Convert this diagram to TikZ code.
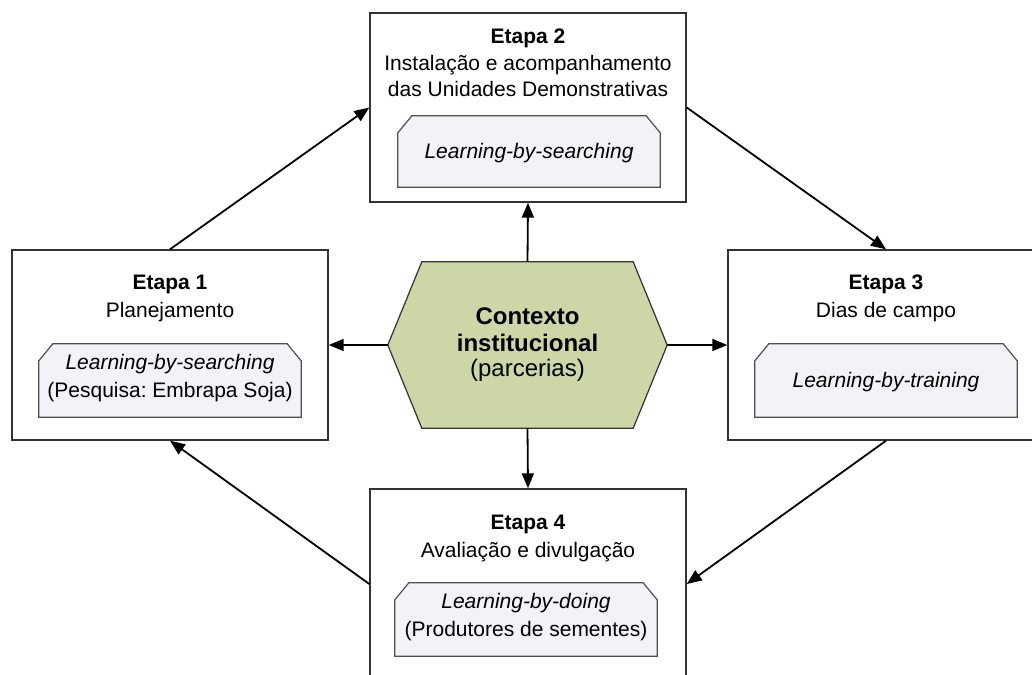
\documentclass[tikz,border=0pt]{standalone}
\usepackage{fontspec}
\setmainfont{Liberation Sans}
\frenchspacing
\usetikzlibrary{arrows.meta,backgrounds}
\definecolor{hexfill}{RGB}{205,214,166}
\definecolor{innerfill}{RGB}{242,242,247}
\definecolor{boxline}{RGB}{50,50,50}
\definecolor{innerline}{RGB}{80,80,80}
\begin{document}
\begin{tikzpicture}[x=1pt,y=-1pt,
  stagebox/.style={draw=boxline,line width=1.4pt,fill=white,minimum width=316pt,minimum height=190pt,inner sep=0pt},
  innerbox/.style={minimum width=262pt,minimum height=73pt,inner sep=0pt},
  chamf/.style={draw=innerline,line width=1.2pt,fill=innerfill},
  txt/.style={anchor=base,inner sep=0pt,font=\fontsize{21}{26}\selectfont},
  ttl/.style={txt,font=\fontsize{21}{26}\selectfont\bfseries},
  itx/.style={txt,font=\fontsize{21}{26}\selectfont\itshape},
  hextxt/.style={anchor=base,inner sep=0pt,font=\fontsize{24}{28}\selectfont},
  conn/.style={line width=1.8pt,-{Triangle[length=15pt,width=12pt]}}
]
\clip (0,0) rectangle (1032,674);
\fill[white] (0,0) rectangle (1032,674);

% outer stage boxes
\node[stagebox] (s1) at (170,345) {};
\node[stagebox,minimum height=189pt] (s2) at (528,107.5) {};
\node[stagebox] (s3) at (886,345) {};
\node[stagebox] (s4) at (528,584) {};

% inner boxes (anchors)
\node[innerbox] (b1) at (170,380.5) {};
\node[innerbox,minimum height=71pt] (b2) at (529,151.5) {};
\node[innerbox] (b3) at (886,380.5) {};
\node[innerbox] (b4) at (526,619.5) {};
\foreach \b in {b1,b2,b3,b4}{
  \draw[chamf] ([yshift=-17pt]\b.north west) -- ([xshift=14pt]\b.north west)
    -- ([xshift=-14pt]\b.north east) -- ([yshift=-17pt]\b.north east)
    -- (\b.south east) -- (\b.south west) -- cycle;
}

% hexagon
\node[minimum width=279pt,minimum height=166pt,inner sep=0pt] (hex) at (527.5,345) {};
\draw[draw=boxline,line width=1.2pt,fill=hexfill] (hex.west) -- ([xshift=34pt]hex.north west)
  -- ([xshift=-34pt]hex.north east) -- (hex.east) -- ([xshift=-34pt]hex.south east)
  -- ([xshift=34pt]hex.south west) -- cycle;

% texts
\node[ttl] (t1a) at (170,289) {Etapa 1};
\node[txt] (t1b) at (170,317) {Planejamento};
\node[itx] (t1c) at (170,369) {Learning-by-searching};
\node[txt] (t1d) at (170,397) {(Pesquisa: Embrapa Soja)};

\node[ttl] (t2a) at (528,44) {Etapa 2};
\node[txt] (t2b) at (528,71) {Instalação e acompanhamento};
\node[txt] (t2c) at (528,97) {das Unidades Demonstrativas};
\node[itx] (t2d) at (529,158) {Learning-by-searching};

\node[ttl] (t3a) at (886,289) {Etapa 3};
\node[txt] (t3b) at (886,317) {Dias de campo};
\node[itx] (t3c) at (886,387) {Learning-by-training};

\node[ttl] (t4a) at (528,529) {Etapa 4};
\node[txt] (t4b) at (528,557) {Avaliação e divulgação};
\node[itx] (t4c) at (526,608) {Learning-by-doing};
\node[txt] (t4d) at (526,636) {(Produtores de sementes)};

\node[hextxt,font=\fontsize{24}{28}\selectfont\bfseries] (h1) at (527.5,324) {Contexto};
\node[hextxt,font=\fontsize{24}{28}\selectfont\bfseries] (h2) at (527.5,351) {institucional};
\node[hextxt] (h3) at (527.5,376) {(parcerias)};

% connectors
\draw[conn] (s1.north) -- (s2.west);
\draw[conn] (s2.east) -- (s3.north);
\draw[conn] (s3.south) -- (s4.east);
\draw[conn] (s4.west) -- (s1.south);
\draw[conn] (hex.north) -- (s2.south);
\draw[conn] (hex.south) -- (s4.north);
\draw[conn] (hex.west) -- (s1.east);
\draw[conn] (hex.east) -- (s3.west);
\end{tikzpicture}
\end{document}
